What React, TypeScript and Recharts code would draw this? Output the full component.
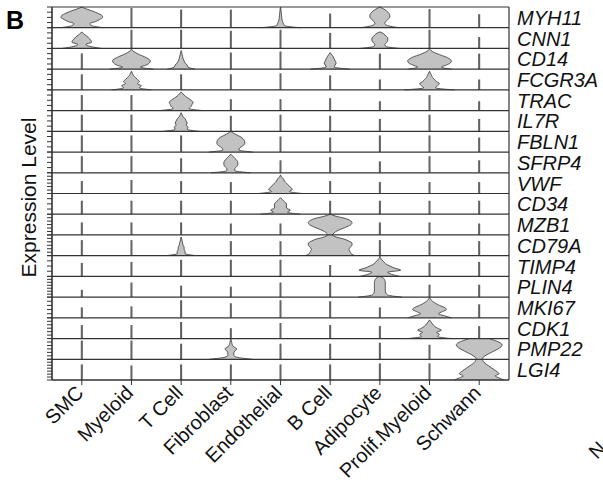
import React from "react";
import {
  ComposedChart,
  Area,
  XAxis,
  YAxis,
  ReferenceLine,
} from "recharts";

// cell types on the x axis (one violin column each)
const cellTypes = [
  "SMC",
  "Myeloid",
  "T Cell",
  "Fibroblast",
  "Endothelial",
  "B Cell",
  "Adipocyte",
  "Prolif.Myeloid",
  "Schwann",
];

// genes, top row first
const genes = [
  "MYH11", "CNN1", "CD14", "FCGR3A", "TRAC", "IL7R", "FBLN1", "SFRP4", "VWF",
  "CD34", "MZB1", "CD79A", "TIMP4", "PLIN4", "MKI67", "CDK1", "PMP22", "LGI4",
];

// max expression per gene row (gives the small ticks on the left)
const geneMax = [4, 4, 4, 4, 4, 4, 4, 4, 6, 4, 6, 6, 4, 7, 5, 6, 6, 7];

// heights (fraction of the row) at which violin widths are read
const levels = [0, 0.1, 0.2, 0.3, 0.4, 0.5, 0.6, 0.7, 0.8, 0.9, 1];

// per gene: one entry per cell type.
// number = thin tail only (its height as a fraction of the row)
// array  = violin half-width at each level
const MYH11 = [[22, 10, 8, 14, 18, 21, 20, 16, 11, 5, 0], 0.95, 0.87, 0.87, [20, 4, 3, 2, 1.5, 1.2, 1, 0.8, 0.6, 0.4, 0], 0.68, [20, 8, 5, 6, 8, 10, 10, 9, 7, 4, 0], 0.9, 0.65];
const CNN1 = [[20, 8, 4, 10, 9, 7, 5, 2, 0, 0, 0], 0.9, 0.9, 0.85, 0.9, 0.75, [20, 6, 5, 7, 8, 8, 6, 4, 0, 0, 0], 0.9, 0.55];
const CD14 = [0.76, [22, 9, 15, 18, 19, 17, 13, 8, 4, 1, 0], [14, 7, 6, 4, 3, 2, 1.5, 1, 0.5, 0, 0], 0.8, 0.85, [20, 4, 5, 6, 5, 4, 3, 1.5, 0, 0, 0], 0.75, [22, 12, 17, 21, 22, 20, 16, 10, 5, 1.5, 0], 0.75];
const FCGR3A = [0.75, [20, 8, 10, 6, 8, 6, 4, 2, 1, 0, 0], 0.75, 0.75, 0.8, 0.7, 0.5, [25, 6, 8, 10, 7, 5, 3, 2, 1, 0, 0], 0.5];
const TRAC = [0.75, 0.75, [22, 8, 10, 11, 12, 10, 7, 4, 2, 0, 0], 0.55, 0.55, 0.6, 0.45, 0.75, 0.45];
const IL7R = [0.8, 0.8, [18, 6, 7, 5, 6, 5, 4, 2, 1, 0, 0], 0.75, 0.8, 0.75, 0.6, 0.8, 0.6];
const FBLN1 = [0.8, 0.8, 0.8, [22, 8, 9, 12, 14, 14, 13, 11, 7, 3, 0], 0.75, 0.7, 0.8, 0.8, 0.7];
const SFRP4 = [0.8, 0.8, 0.7, [20, 4, 4, 6, 7, 7, 6, 4, 2, 0, 0], 0.6, 0.75, 0.55, 0.8, 0.6];
const VWF = [0.6, 0.65, 0.6, 0.55, [22, 9, 12, 10, 8, 6, 4, 3, 1, 0, 0], 0.6, 0.55, 0.55, 0.55];
const CD34 = [0.65, 0.65, 0.65, 0.65, [20, 7, 10, 6, 6, 6, 4, 2, 0, 0, 0], 0.65, 0.65, 0.65, 0.65];
const MZB1 = [0.6, 0.6, 0.6, 0.55, 0.55, [2, 4, 7, 12, 17, 21, 22, 20, 15, 6, 0], 0.6, 0.6, 0.55];
const CD79A = [0.75, 0.75, [15, 4, 4, 3, 3, 2, 1.5, 1, 0.5, 0, 0], 0.7, 0.7, [25, 21, 20, 19, 20, 22, 22, 19, 14, 6, 2], 0.75, 0.7, 0.7];
const TIMP4 = [0.65, 0.7, 0.8, 0.8, 0.8, 0.55, [20, 12, 8, 21, 15, 10, 6, 4, 2, 0.5, 0], 0.65, 0.7];
const PLIN4 = [0.35, 0.7, 0.55, 0.5, 0.7, 0.7, [22, 8, 6, 5.5, 5.5, 5.5, 5.5, 5.5, 5, 4, 0], 0.6, 0.6];
const MKI67 = [0.5, 0.55, 0.85, 0.7, 0.85, 0.8, 0.5, [22, 15, 9, 13, 17, 15, 10, 6, 3, 1, 0], 0.65];
const CDK1 = [0.65, 0.65, 0.8, 0.5, 0.75, 0.65, 0.6, [22, 8, 10, 7, 12, 8, 5, 3, 1.5, 0, 0], 0.6];
const PMP22 = [0.9, 0.9, 0.75, [22, 6, 3, 3, 4, 6, 3, 1.5, 1, 0.5, 0], 0.75, 0.75, 0.8, 0.7, [3, 4, 7, 11, 15, 19, 22, 23, 21, 16, 10]];
const LGI4 = [0.75, 0.7, 0.75, 0.75, 0.75, 0.75, 0.8, 0.8, [25, 20, 16, 20, 18, 15, 12, 9, 6, 4, 3]];

const violins = [
  MYH11, CNN1, CD14, FCGR3A, TRAC, IL7R, FBLN1, SFRP4, VWF,
  CD34, MZB1, CD79A, TIMP4, PLIN4, MKI67, CDK1, PMP22, LGI4,
];

const N = genes.length;
const WIDTH_UNIT = 50; // half-width units per column
const THIN = 0.5;
const FONT = "'Liberation Sans', Arial, Helvetica, sans-serif";

type Spec = number | number[];

// in the vertical layout the y value grows downwards: row g spans [g, g + 1],
// its baseline (zero expression) is at g + 1
function violinData(spec: Spec, col: number, g: number) {
  const bottom = g + 1;
  if (typeof spec === "number") {
    const w = THIN / WIDTH_UNIT;
    return [
      { y: bottom, x: [col - w, col + w] },
      { y: bottom - spec, x: [col - w, col + w] },
    ];
  }
  // drop trailing zeros, keep the first one as the tip
  let end = spec.length - 1;
  while (end > 0 && spec[end] === 0 && spec[end - 1] === 0) end--;
  return spec.slice(0, end + 1).map((w, i) => ({
    y: bottom - levels[i],
    x: [col - w / WIDTH_UNIT, col + w / WIDTH_UNIT],
  }));
}

const leftTicks: number[] = [];
genes.forEach((_, g) => {
  for (let k = 0; k <= geneMax[g]; k++) leftTicks.push(g + 1 - k / geneMax[g]);
});
const boundaries = Array.from({ length: N + 1 }, (_, i) => i);

function CellTick({ x, y, payload }: any) {
  const tx = x + 3;
  const ty = y + 7;
  return (
    <text
      x={tx}
      y={ty}
      transform={`rotate(-45, ${tx}, ${ty})`}
      textAnchor="end"
      fontSize={20}
      fontFamily={FONT}
      fill="#111"
    >
      {cellTypes[payload.value]}
    </text>
  );
}

function geneLabel(name: string) {
  return ({ viewBox }: any) => (
    <text
      x={viewBox.x + viewBox.width + 8}
      y={viewBox.y + 7.5}
      textAnchor="start"
      fontSize={20}
      fontStyle="italic"
      fontFamily={FONT}
      fill="#111"
    >
      {name}
    </text>
  );
}

function YLabel({ viewBox }: any) {
  const cy = viewBox.y + viewBox.height / 2 + 4;
  const cx = 36;
  return (
    <text
      x={cx}
      y={cy}
      transform={`rotate(-90, ${cx}, ${cy})`}
      textAnchor="middle"
      fontSize={21}
      fontFamily={FONT}
      fill="#111"
    >
      Expression Level
    </text>
  );
}

export default function App() {
  return (
    <div style={{ position: "absolute", left: 0, top: 0, width: 603, height: 485, background: "#fff" }}>
      <div
        style={{
          position: "absolute",
          left: 6,
          top: 8,
          fontFamily: FONT,
          fontWeight: 700,
          fontSize: 25,
          lineHeight: "25px",
          color: "#000",
        }}
      >
        B
      </div>
      <ComposedChart
        width={603}
        height={485}
        layout="vertical"
        margin={{ top: 7, right: 94, bottom: 5, left: 42 }}
      >
        <XAxis
          type="number"
          domain={[-0.6, 8.6]}
          ticks={cellTypes.map((_, i) => i)}
          interval={0}
          height={100}
          tickSize={5}
          stroke="#333"
          tick={<CellTick />}
        />
        <YAxis
          type="number"
          dataKey="y"
          domain={[0, N]}
          ticks={leftTicks}
          interval={0}
          width={10}
          tickSize={5}
          stroke="#333"
          tickFormatter={() => ""}
          label={<YLabel />}
        />
        {violins.map((row, g) =>
          row.map((spec, c) => (
            <Area
              key={`${g}-${c}`}
              data={violinData(spec as Spec, c, g)}
              dataKey="x"
              type="monotone"
              fill="#c2c2c2"
              fillOpacity={1}
              stroke="#333"
              strokeWidth={0.8}
              dot={false}
              activeDot={false}
              isAnimationActive={false}
            />
          ))
        )}
        {boundaries.map((b) => (
          <ReferenceLine key={`b${b}`} y={b} stroke="#333" strokeWidth={1.2} />
        ))}
        {genes.map((name, g) => (
          <ReferenceLine
            key={name}
            y={g + 0.5}
            stroke="none"
            label={geneLabel(name)}
          />
        ))}
        <ReferenceLine x={-0.6} stroke="#333" strokeWidth={1.2} />
        <ReferenceLine x={8.6} stroke="#333" strokeWidth={1.2} />
      </ComposedChart>
      <svg width={603} height={485} style={{ position: "absolute", left: 0, top: 0, pointerEvents: "none" }}>
        <text
          x={597}
          y={460}
          transform="rotate(-45, 597, 460)"
          fontSize={20}
          fontFamily={FONT}
          fill="#111"
        >
          N
        </text>
      </svg>
    </div>
  );
}
